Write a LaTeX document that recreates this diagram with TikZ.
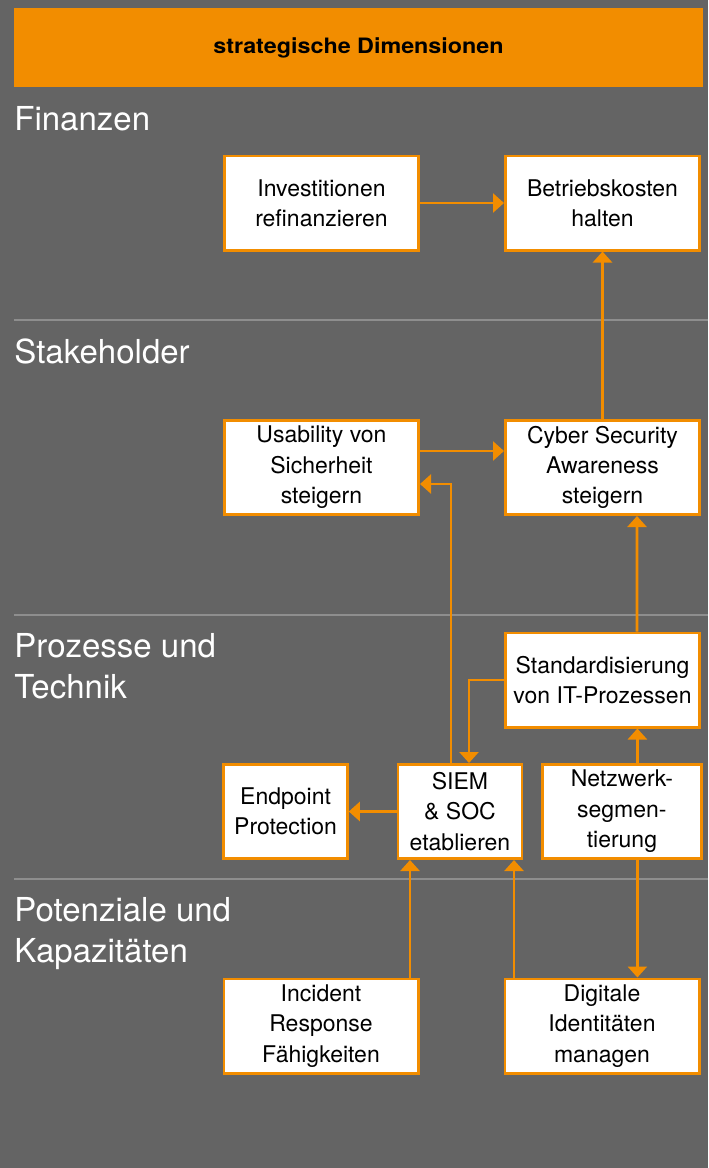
\documentclass[tikz,border=0pt]{standalone}
\usepackage{fontspec}
\setmainfont{TeX Gyre Heros}
\usetikzlibrary{positioning,arrows.meta}

\definecolor{dimorange}{HTML}{F28D00}
\definecolor{bggray}{HTML}{646464}
\definecolor{rulegray}{HTML}{8E8E8E}

\begin{document}
\begin{tikzpicture}[x=0.5pt, y=-0.5pt, every node/.style={font=\fontsize{11.5}{15.2}\selectfont}]
\tikzstyle{goal}=[rectangle, draw=dimorange, line width=1.3pt, fill=white, minimum height=47.2pt, minimum width=97.2pt, inner sep=1pt, align=center]
\tikzstyle{smallgoal}=[goal, minimum width=61.9pt]
\tikzstyle{dimension}=[anchor=base west, inner sep=0pt, align=left, text=white, font=\fontsize{16.5}{20.5}\selectfont]
\tikzstyle{flow}=[draw=dimorange, line width=1.3pt, -{Triangle[length=5.5pt, width=9.5pt]}]
\tikzstyle{divider}=[draw=rulegray, line width=1pt]

% canvas
\fill[bggray] (0,0) rectangle (708,1168);
\useasboundingbox (0,0) rectangle (708,1168);

% header bar
\node[fill=dimorange, minimum width=344.5pt, minimum height=39.5pt, inner sep=0pt] (head) at (358.5,47.5)
  {\raisebox{-1.5pt}{\scalebox{1.1}[1]{\fontsize{10.6}{12}\selectfont\bfseries strategische Dimensionen}}};

% dimension rows (base anchor sits on the last line)
\draw[divider] (14,320) -- (708,320);
\draw[divider] (14,615) -- (708,615);
\draw[divider] (14,879) -- (708,879);
\node[dimension] (finanzen) at (14,130) {Finanzen};
\node[dimension] (stakeholder) at (14,363) {Stakeholder};
\node[dimension] (prozesse) at (14,698) {Prozesse und\\Technik};
\node[dimension] (potenziale) at (14,962) {Potenziale und\\Kapazitäten};

% goals
\node[goal] (invest) at (321.5,203) {Investitionen\\refinanzieren};
\node[goal, right=42pt of invest] (kosten) {Betriebskosten\\halten};
\node[goal] (usability) at (321.5,467.5) {Usability von\\Sicherheit\\steigern};
\node[goal, right=42pt of usability] (awareness) {Cyber Security\\Awareness\\steigern};
\node[goal] (standard) at (602.5,680) {Standardisierung\\von IT-Prozessen};
\node[smallgoal] (siem) at (460,811.5) {SIEM\\\& SOC\\etablieren};
\node[smallgoal, left=24pt of siem] (endpoint) {Endpoint\\Protection};
\node[goal, minimum width=79.4pt, right=9pt of siem] (netz) {Netzwerk-\\segmen-\\tierung};
\node[goal] (incident) at (321,1026) {Incident\\Response\\Fähigkeiten};
\node[goal, right=42pt of incident] (ident) {Digitale\\Identitäten\\managen};

% helper points for offset connectors
\coordinate (netzup) at ([xshift=7.75pt]netz.north);
\coordinate (netzdown) at ([xshift=7.75pt]netz.south);
\coordinate (siemleft) at ([xshift=-25pt]siem.south);
\coordinate (siemright) at ([xshift=27pt]siem.south);

% connectors
\draw[flow] (invest) -- (kosten);
\draw[flow] (awareness) -- (kosten);
\draw[flow] ([yshift=8.25pt]usability.east) -- ([yshift=8.25pt]awareness.west);
\draw[flow] ([xshift=-4.5pt]siem.north) |- ([yshift=-8.25pt]usability.east);
\draw[flow] ([xshift=17.25pt]standard.north) -- ([xshift=17.25pt]awareness.south);
\draw[flow] (standard.west) -| ([xshift=4.5pt]siem.north);
\draw[flow] (netzup) -- (netzup |- standard.south);
\draw[flow] (netzdown) -- (netzdown |- ident.north);
\draw[flow] (siem) -- (endpoint);
\draw[flow] (siemleft |- incident.north) -- (siemleft);
\draw[flow] (siemright |- ident.north) -- (siemright);
\end{tikzpicture}
\end{document}
